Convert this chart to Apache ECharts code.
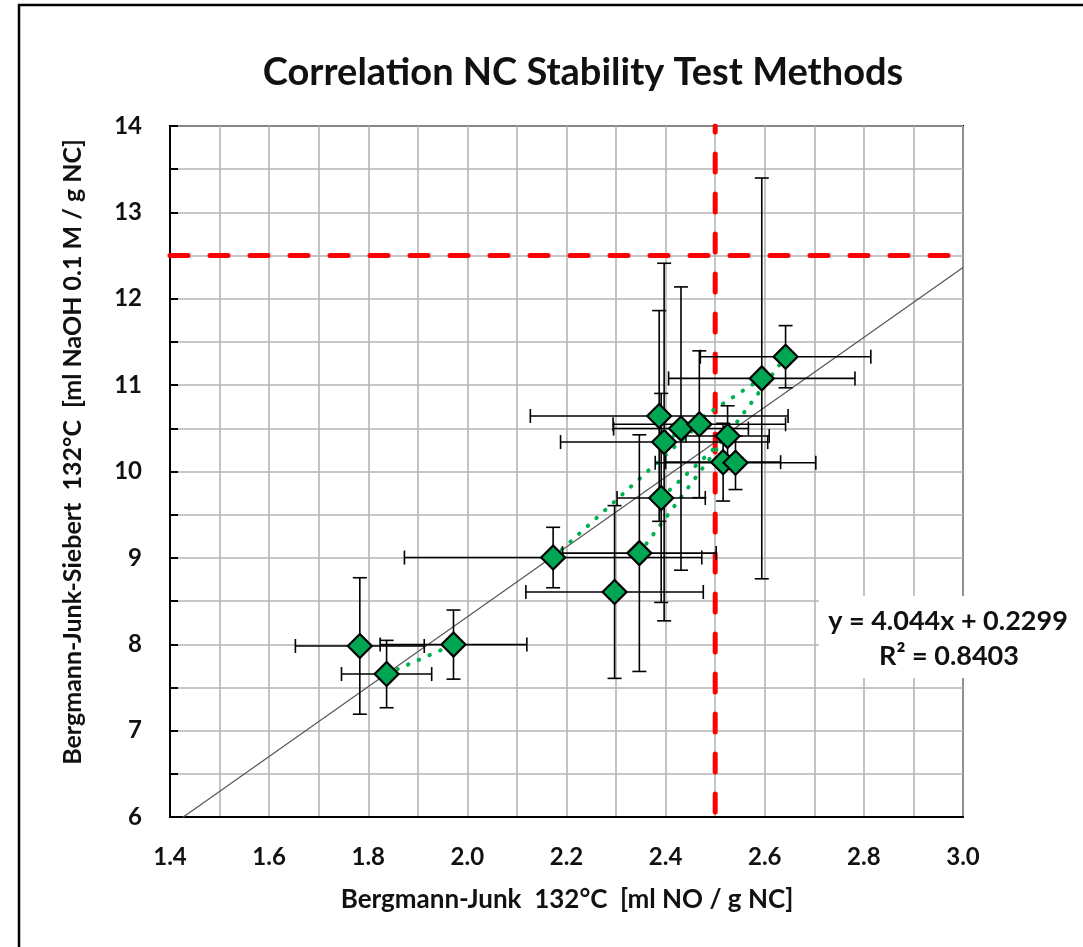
<!DOCTYPE html>
<html>
<head>
<meta charset="utf-8">
<script src="https://cdn.jsdelivr.net/npm/echarts@6/dist/echarts.min.js"></script>
<style>
html,body{margin:0;padding:0;background:#fff;}
#chart{width:1083px;height:947px;}
</style>
</head>
<body>
<div id="chart"></div>
<script>
// ---- data ----
const xValues = [1.783, 1.837, 1.972, 2.173, 2.297, 2.347, 2.391, 2.397, 2.387, 2.431, 2.468, 2.525, 2.516, 2.541, 2.594, 2.642];
const yValues = [7.980, 7.655, 7.996, 9.004, 8.605, 9.055, 9.694, 10.341, 10.643, 10.497, 10.547, 10.411, 10.108, 10.101, 11.078, 11.329];
const xErrors = [0.130, 0.091, 0.148, 0.300, 0.179, 0.155, 0.089, 0.209, 0.260, 0.136, 0.174, 0.084, 0.116, 0.162, 0.188, 0.172];
const yErrors = [0.790, 0.390, 0.400, 0.350, 1.000, 1.370, 1.210, 2.070, 1.220, 1.640, 0.850, 0.350, 0.450, 0.310, 2.320, 0.360];
// green dotted connections between points (index pairs)
const dottedLinks = [[1, 2], [3, 10], [5, 15], [6, 11], [7, 14]];
// regression (from the chart's equation)
const trendSlope = 4.044;
const trendIntercept = 0.2299;
const trendR2 = 0.8403;
// red limit lines
const limitX = 2.5;
const limitY = 12.5;
// axes
const xMin = 1.4, xMax = 3.0, xStep = 0.2;
const yMin = 6, yMax = 14, yStep = 1;

const titleText = 'Correlation NC Stability Test Methods';
const xTitle = 'Bergmann-Junk  132°C  [ml NO / g NC]';
const yTitle = 'Bergmann-Junk-Siebert  132°C  [ml NaOH 0.1 M / g NC]';

const FONT = 'Lato';

const chart = echarts.init(document.getElementById('chart'), null, {renderer: 'canvas'});

const points = xValues.map((x, i) => [x, yValues[i]]);
const errData = xValues.map((x, i) => [x, yValues[i], xErrors[i], yErrors[i]]);

const dottedSeries = dottedLinks.map((pair, k) => ({
  type: 'line',
  name: 'link' + k,
  data: pair.map(i => [xValues[i], yValues[i]]),
  showSymbol: false,
  symbol: 'none',
  z: 4,
  silent: true,
  lineStyle: {color: '#00B050', width: 4, type: [0.5, 11.2], cap: 'round'}
}));

function renderErr(params, api) {
  const x = api.value(0), y = api.value(1), ex = api.value(2), ey = api.value(3);
  const l = api.coord([x - ex, y]);
  const r = api.coord([x + ex, y]);
  const t = api.coord([x, y + ey]);
  const b = api.coord([x, y - ey]);
  const c = 7;
  const st = {stroke: '#000', lineWidth: 1.6};
  const ln = (x1, y1, x2, y2) => ({type: 'line', shape: {x1, y1, x2, y2}, style: st});
  return {
    type: 'group',
    children: [
      ln(l[0], l[1], r[0], r[1]),
      ln(t[0], t[1], b[0], b[1]),
      ln(l[0], l[1] - c, l[0], l[1] + c),
      ln(r[0], r[1] - c, r[0], r[1] + c),
      ln(t[0] - c, t[1], t[0] + c, t[1]),
      ln(b[0] - c, b[1], b[0] + c, b[1])
    ]
  };
}

const gridL = 170, gridT = 126, gridR = 963, gridB = 817;

const option = {
  backgroundColor: '#fff',
  animation: false,
  grid: {
    left: gridL, top: gridT, right: 1083 - gridR, bottom: 947 - gridB,
    show: true, borderColor: '#000', borderWidth: 2, backgroundColor: 'transparent'
  },
  xAxis: {
    type: 'value', min: xMin, max: xMax, interval: xStep,
    axisLine: {show: true, onZero: false, lineStyle: {color: '#000', width: 2}},
    axisTick: {show: false},
    axisLabel: {
      margin: 28, color: '#111', fontFamily: FONT, fontWeight: 'bold', fontSize: 24,
      formatter: v => v.toFixed(1)
    },
    splitLine: {show: true, lineStyle: {color: '#b5b5b5', width: 1.6}},
    minorTick: {show: false, splitNumber: 2},
    minorSplitLine: {show: true, lineStyle: {color: '#b5b5b5', width: 1.6}}
  },
  yAxis: {
    type: 'value', min: yMin, max: yMax, interval: yStep,
    axisLine: {show: true, onZero: false, lineStyle: {color: '#000', width: 2}},
    axisTick: {show: true, inside: true, length: 8, lineStyle: {color: '#000', width: 2}},
    minorTick: {show: true, splitNumber: 2, length: 8, lineStyle: {color: '#000', width: 2}},
    axisLabel: {margin: 28, color: '#111', fontFamily: FONT, fontWeight: 'bold', fontSize: 24},
    splitLine: {show: true, lineStyle: {color: '#b5b5b5', width: 1.6}},
    minorSplitLine: {show: true, lineStyle: {color: '#b5b5b5', width: 1.6}}
  },
  series: [
    {
      type: 'line', name: 'limitY', z: 2, silent: true, symbol: 'none',
      data: [[xMin, limitY], [xMax, limitY]],
      lineStyle: {color: '#FF0000', width: 5, type: [18, 22], cap: 'round'}
    },
    {
      type: 'line', name: 'limitX', z: 2, silent: true, symbol: 'none',
      data: [[limitX, yMax], [limitX, yMin]],
      lineStyle: {color: '#FF0000', width: 5, type: [18, 22], dashOffset: 12, cap: 'round'}
    },
    {
      type: 'line', name: 'trend', z: 3, silent: true, symbol: 'none',
      data: [[xMin, trendSlope * xMin + trendIntercept], [xMax, trendSlope * xMax + trendIntercept]],
      lineStyle: {color: '#555', width: 1.2}
    },
    ...dottedSeries,
    {
      type: 'custom', name: 'errors', z: 5, silent: true,
      renderItem: renderErr,
      data: errData,
      encode: {x: [0], y: [1]}
    },
    {
      type: 'scatter', name: 'points', z: 6,
      data: points,
      symbol: 'diamond', symbolSize: 24,
      itemStyle: {color: '#00A651', borderColor: '#000', borderWidth: 2.2, opacity: 1}
    }
  ],
  graphic: [
    {
      type: 'rect', z: 100, silent: true,
      shape: {x: 19, y: 5, width: 1200, height: 1200},
      style: {fill: 'none', stroke: '#000', lineWidth: 2.5}
    },
    {
      type: 'text', z: 100, x: 583, y: 73,
      style: {text: titleText, fill: '#111', font: 'bold 38px ' + FONT, textAlign: 'center', textVerticalAlign: 'middle'}
    },
    {
      type: 'text', z: 100, x: 567, y: 900,
      style: {text: xTitle, fill: '#111', font: 'bold 26px ' + FONT, textAlign: 'center', textVerticalAlign: 'middle'}
    },
    {
      type: 'text', z: 100, x: 73, y: 452, rotation: Math.PI / 2,
      style: {text: yTitle, fill: '#111', font: 'bold 25px ' + FONT, textAlign: 'center', textVerticalAlign: 'middle'}
    },
    {
      type: 'rect', z: 90, silent: true,
      shape: {x: 819, y: 596, width: 258, height: 82},
      style: {fill: '#fff'}
    },
    {
      type: 'text', z: 100, x: 948, y: 621,
      style: {text: 'y = ' + trendSlope.toFixed(3) + 'x + ' + trendIntercept.toFixed(4), fill: '#111', font: 'bold 27px ' + FONT, textAlign: 'center', textVerticalAlign: 'middle'}
    },
    {
      type: 'text', z: 100, x: 949, y: 656,
      style: {text: 'R² = ' + trendR2.toFixed(4), fill: '#111', font: 'bold 27px ' + FONT, textAlign: 'center', textVerticalAlign: 'middle'}
    }
  ]
};
chart.setOption(option);
</script>
</body>
</html>
